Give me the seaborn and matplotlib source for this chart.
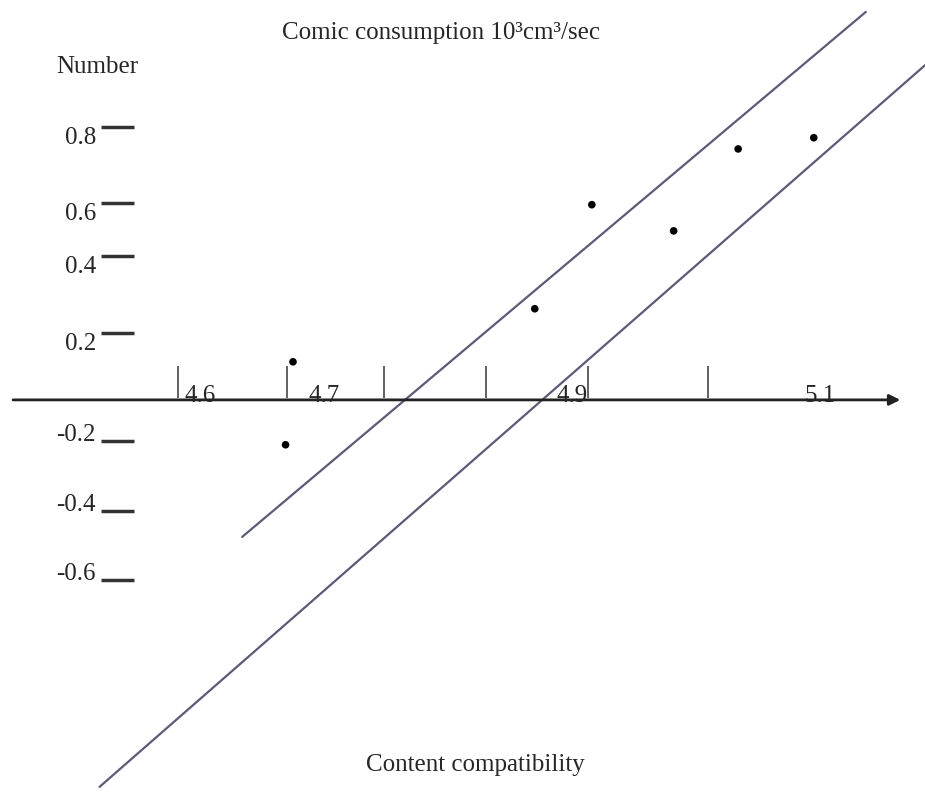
import matplotlib.pyplot as plt
import seaborn as sns

# measured points (content compatibility vs number)
compat = [4.675, 4.669, 4.870, 4.916, 4.982, 5.034, 5.095]
number = [0.112, -0.132, 0.268, 0.574, 0.497, 0.738, 0.771]

# the two parallel boundary lines (end points)
upper_x = [4.634, 5.137]
upper_y = [-0.403, 1.141]
lower_x = [4.519, 5.185]
lower_y = [-1.138, 0.985]

# hand drawn tick marks and their labels
x_tick_pos = [4.582, 4.670, 4.748, 4.831, 4.913, 5.010]
x_labels = [4.6, 4.7, 4.9, 5.1]
y_tick_pos = [0.803, 0.579, 0.424, 0.197, -0.121, -0.326, -0.529]
y_labels = ["0.8", "0.6", "0.4", "0.2", "-0.2", "-0.4", "-0.6"]

sns.set_style("white")
plt.rcParams["font.family"] = ["Liberation Serif", "DejaVu Serif"]

fig = plt.figure(figsize=(9.25, 7.94), dpi=100)
ax = fig.add_axes([0, 0, 1, 1])

line_col = "#5b5b78"
sns.lineplot(x=upper_x, y=upper_y, color=line_col, lw=1.6, ax=ax)
sns.lineplot(x=lower_x, y=lower_y, color=line_col, lw=1.6, ax=ax)
sns.scatterplot(x=compat, y=number, color="black", s=30, edgecolor="none", ax=ax, zorder=5)

# horizontal axis with arrow
ax.annotate("", xy=(5.167, 0), xytext=(4.447, 0),
            arrowprops=dict(arrowstyle="-|>", color="#222222", lw=2, mutation_scale=16))
ax.vlines(x_tick_pos, 0.006, 0.10, color="#555555", lw=1.3)
for v in x_labels:
    ax.text(v, 0.01, str(v), ha="center", va="center", fontsize=18)

# vertical scale (no axis line, only dashes)
ax.hlines(y_tick_pos, 4.520, 4.547, color="#333333", lw=2.5)
for pos, lab in zip(y_tick_pos, y_labels):
    if pos > 0:
        ax.text(4.516, pos, lab, ha="right", va="top", fontsize=18)
    else:
        ax.text(4.516, pos, lab, ha="right", va="baseline", fontsize=18)

ax.text(4.517, 0.979, "Number", ha="center", va="center", fontsize=18)
ax.text(4.794, 1.079, "Comic consumption 10³cm³/sec", ha="center", va="center", fontsize=18)
ax.text(4.822, -1.074, "Content compatibility", ha="center", va="center", fontsize=18)

ax.set_xlim(4.4387, 5.1847)
ax.set_ylim(-1.159, 1.176)
ax.axis("off")

plt.savefig("out.png", dpi=100)
